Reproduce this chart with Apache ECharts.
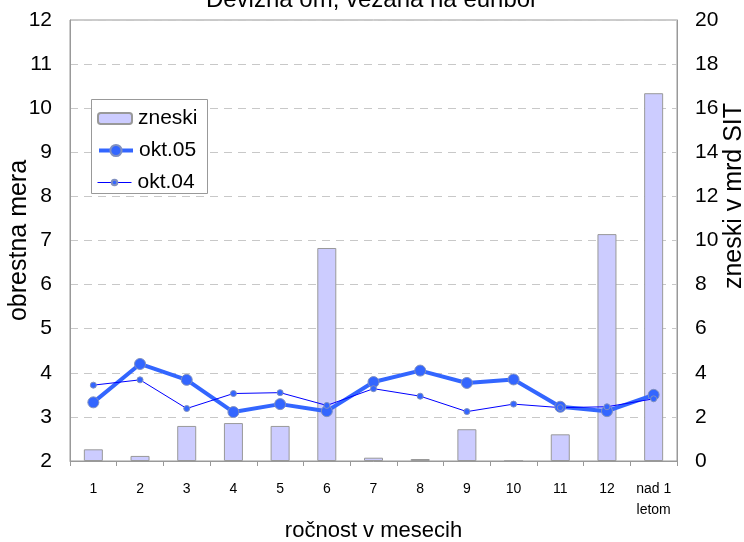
<!DOCTYPE html>
<html>
<head>
<meta charset="utf-8">
<script src="https://cdn.jsdelivr.net/npm/echarts@6/dist/echarts.min.js"></script>
<style>
  html, body { margin: 0; padding: 0; background: #fff; }
  #chart { width: 744px; height: 542px; }
</style>
</head>
<body>
<div id="chart"></div>
<script>
// Maturity buckets (months)
const categories = ['1', '2', '3', '4', '5', '6', '7', '8', '9', '10', '11', '12', 'nad 1\nletom'];
// Amounts, billions of SIT (right axis)
const zneski = [0.53, 0.23, 1.59, 1.72, 1.59, 9.66, 0.15, 0.09, 1.44, 0, 1.21, 10.29, 16.68];
// Interest rates, % (left axis)
const okt05 = [3.33, 4.20, 3.84, 3.11, 3.29, 3.13, 3.79, 4.05, 3.77, 3.85, 3.23, 3.13, 3.50];
const okt04 = [3.72, 3.84, 3.19, 3.53, 3.55, 3.26, 3.64, 3.47, 3.12, 3.29, 3.21, 3.23, 3.41];

const FONT = 'Liberation Sans, Arial, sans-serif';
const chart = echarts.init(document.getElementById('chart'));

// one legend block per entry so each line icon keeps its own marker size
function legendEntry(name, centerY, itemHeight) {
  return {
    orient: 'vertical',
    left: 97,
    top: centerY - 9,
    padding: 0,
    itemWidth: 34,
    itemHeight: itemHeight,
    z: 6,
    lineStyle: { width: 'inherit' },
    textStyle: { fontFamily: FONT, fontSize: 21, color: '#000', padding: [0, 0, 0, 1] },
    data: [name]
  };
}

chart.setOption({
  animation: false,
  backgroundColor: '#ffffff',
  textStyle: { fontFamily: FONT, color: '#000' },
  title: {
    text: 'Devizna om, vezana na euribor',
    left: 'center',
    top: -17,
    textStyle: { fontFamily: FONT, fontSize: 24, fontWeight: 'normal', color: '#000' }
  },
  grid: {
    left: 70, right: 67, top: 20, bottom: 81,
    outerBoundsMode: 'none',
    containLabel: false,
    show: true, borderColor: '#999999', borderWidth: 1
  },
  graphic: [
    {
      type: 'rect',
      z: 5,
      shape: { x: 91.5, y: 99.5, width: 116, height: 94 },
      style: { fill: '#ffffff', stroke: '#999999', lineWidth: 1 }
    },
    {
      type: 'text',
      z: 5,
      x: 734,
      y: 196,
      rotation: Math.PI / 2,
      style: {
        text: 'zneski v mrd SIT',
        fontFamily: FONT,
        fontSize: 25,
        fill: '#000',
        align: 'center',
        verticalAlign: 'middle'
      }
    }
  ],
  legend: [
    legendEntry('zneski', 117, 11),
    legendEntry('okt.05', 149, 14),
    legendEntry('okt.04', 181, 7)
  ],
  xAxis: {
    type: 'category',
    data: categories,
    boundaryGap: true,
    name: 'ročnost v mesecih',
    nameLocation: 'middle',
    nameGap: 59,
    nameMoveOverlap: false,
    nameTextStyle: { fontFamily: FONT, fontSize: 22, color: '#000' },
    axisLine: { lineStyle: { color: '#999999' } },
    axisTick: { show: true, interval: 0, length: 5, lineStyle: { color: '#999999' } },
    axisLabel: {
      interval: 0, fontFamily: FONT,
      fontSize: 14, color: '#000', margin: 18, lineHeight: 21
    }
  },
  yAxis: [
    {
      type: 'value', min: 2, max: 12, interval: 1,
      name: 'obrestna mera',
      nameLocation: 'middle',
      nameGap: 38,
      nameMoveOverlap: false,
      nameTextStyle: { fontFamily: FONT, fontSize: 25, color: '#000' },
      axisLine: { show: true, lineStyle: { color: '#999999' } },
      axisTick: { show: false },
      axisLabel: { fontFamily: FONT, fontSize: 21, color: '#000', margin: 18 },
      splitLine: { show: true, lineStyle: { color: '#c8c8c8', type: [8, 6], width: 1 } }
    },
    {
      type: 'value', min: 0, max: 20, interval: 2,
      axisLine: { show: true, lineStyle: { color: '#999999' } },
      axisTick: { show: false },
      axisLabel: { fontFamily: FONT, fontSize: 21, color: '#000', margin: 18 },
      splitLine: { show: false }
    }
  ],
  series: [
    {
      name: 'zneski',
      type: 'bar',
      yAxisIndex: 1,
      data: zneski,
      barWidth: 19,
      itemStyle: { color: '#ccccff', borderColor: '#999999', borderWidth: 1 }
    },
    {
      name: 'okt.05',
      type: 'line',
      yAxisIndex: 0,
      data: okt05,
      symbol: 'circle',
      symbolSize: 11,
      lineStyle: { color: '#3366ff', width: 4 },
      itemStyle: { color: '#3366ff', borderColor: '#8090c0', borderWidth: 1 }
    },
    {
      name: 'okt.04',
      type: 'line',
      yAxisIndex: 0,
      data: okt04,
      symbol: 'circle',
      symbolSize: 6,
      lineStyle: { color: '#0000ff', width: 1 },
      itemStyle: { color: '#3366ff', borderColor: '#8090c0', borderWidth: 1 }
    }
  ]
});
</script>
</body>
</html>
